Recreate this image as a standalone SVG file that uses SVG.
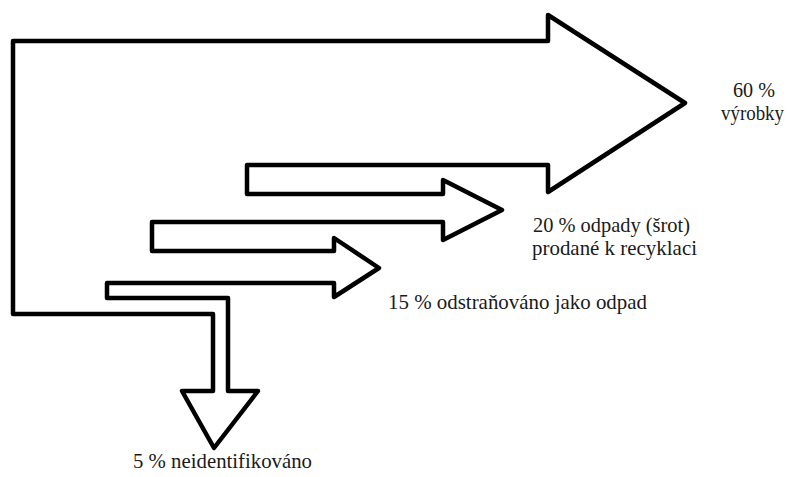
<svg xmlns="http://www.w3.org/2000/svg" width="790" height="477" viewBox="0 0 790 477">
<style>
.outline{fill:#fff;stroke:#000;stroke-width:4.5;stroke-linejoin:round}
.lbl{font-family:"Liberation Serif","Times New Roman",serif;font-size:21px;fill:#1a1a1a}
</style>
<rect width="790" height="477" fill="#fff"/>
<g id="flows">
<path class="outline" d="M13,41 L548,41 L548,15 L685,103 L548,192 L548,165 L247,165 L247,194 L443,194 L443,180 L502,210 L443,240 L443,222 L152,222 L152,251 L334,251 L334,238 L379,268 L334,297 L334,283 L107,283 L107,298 L228,298 L228,391 L258,391 L214,448 L182,391 L213,391 L213,314 L13,314 Z"/>
</g>
<g id="label-60">
<text class="lbl" x="733" y="97" textLength="42" lengthAdjust="spacingAndGlyphs">60 %</text>
<text class="lbl" x="721" y="120" textLength="63" lengthAdjust="spacingAndGlyphs">výrobky</text>
</g>
<g id="label-20">
<text class="lbl" x="533" y="232" textLength="157" lengthAdjust="spacingAndGlyphs">20 % odpady (šrot)</text>
<text class="lbl" x="532" y="255" textLength="165" lengthAdjust="spacingAndGlyphs">prodané k recyklaci</text>
</g>
<g id="label-15">
<text class="lbl" x="388" y="309" textLength="259" lengthAdjust="spacingAndGlyphs">15 % odstraňováno jako odpad</text>
</g>
<g id="label-5">
<text class="lbl" x="133" y="468" textLength="179" lengthAdjust="spacingAndGlyphs">5 % neidentifikováno</text>
</g>
</svg>
